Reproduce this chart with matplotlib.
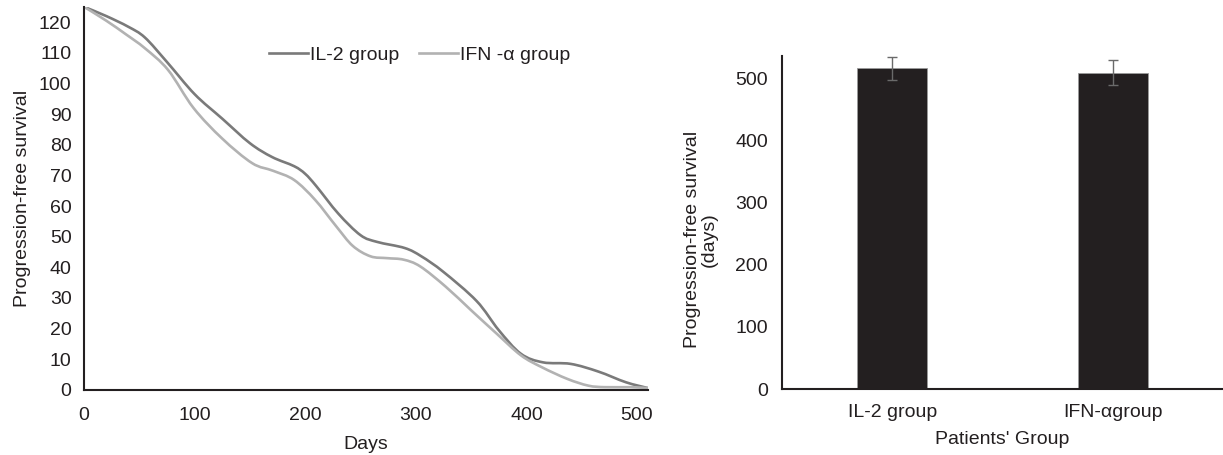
import matplotlib
matplotlib.use("Agg")
import matplotlib.pyplot as plt
from matplotlib.path import Path
from matplotlib.patches import PathPatch
from matplotlib.lines import Line2D

plt.rcParams['font.family'] = ['Liberation Sans', 'DejaVu Sans']

# Left chart: progression-free survival curves
days_il2 = [0, 20, 40, 55, 75, 100, 125, 150, 170, 190, 200, 210, 230, 250, 265, 290, 305, 325, 355, 375, 395, 415, 440, 465, 490, 510]
pfs_il2 = [125, 122, 118.5, 115, 107, 96.5, 88.5, 80.5, 76, 73, 70.5, 66.5, 57.5, 50.5, 48.3, 46.3, 43.6, 38.5, 29, 19.5, 11.8, 9, 8.5, 6, 2.5, 0.6]
days_ifn = [0, 20, 38, 55, 76, 99, 125, 152, 171, 190, 209, 228, 243, 259, 274, 289, 304, 327, 350, 373, 395, 414, 437, 456, 471, 494, 510]
pfs_ifn = [125, 120.5, 116, 111.5, 104.4, 92, 82, 74, 71.5, 68.5, 62, 53.4, 47, 43.6, 43, 42.5, 40.3, 33.7, 26, 18.4, 11.3, 7.4, 3.6, 1.4, 0.9, 0.9, 0.6]
series_labels = ['IL-2 group', 'IFN -α group']

# Right chart: mean progression-free survival per group
groups = ['IL-2 group', 'IFN-αgroup']
means = [516, 509]
errors = [18, 20]

FS = 14
spine_col = '#231f20'
text_col = '#231f20'


def smooth_path(xs, ys):
    """Catmull-Rom style smoothed path (like a spreadsheet 'smoothed line')."""
    pts = list(zip(xs, ys))
    verts = [pts[0]]
    codes = [Path.MOVETO]
    n = len(pts)
    for i in range(n - 1):
        p0 = pts[i - 1] if i > 0 else pts[i]
        p1 = pts[i]
        p2 = pts[i + 1]
        p3 = pts[i + 2] if i + 2 < n else pts[i + 1]
        c1 = (p1[0] + (p2[0] - p0[0]) / 6.0, p1[1] + (p2[1] - p0[1]) / 6.0)
        c2 = (p2[0] - (p3[0] - p1[0]) / 6.0, p2[1] - (p3[1] - p1[1]) / 6.0)
        verts += [c1, c2, p2]
        codes += [Path.CURVE4] * 3
    return Path(verts, codes)


fig = plt.figure(figsize=(12.23, 4.55), dpi=100)

ax1 = fig.add_axes([0.0687, 0.143, 0.4612, 0.842])
col_il2, col_ifn = '#7a7a7a', '#b2b2b2'
ax1.add_patch(PathPatch(smooth_path(days_il2, pfs_il2), fill=False, edgecolor=col_il2, lw=1.9, capstyle='round'))
ax1.add_patch(PathPatch(smooth_path(days_ifn, pfs_ifn), fill=False, edgecolor=col_ifn, lw=1.9, capstyle='round'))
ax1.set_xlim(0, 510)
ax1.set_ylim(0, 125)
ax1.set_xticks(range(0, 501, 100))
ax1.set_yticks(range(0, 121, 10))
for s in ['top', 'right']:
    ax1.spines[s].set_visible(False)
for s in ['left', 'bottom']:
    ax1.spines[s].set_color(spine_col)
    ax1.spines[s].set_linewidth(1.5)
ax1.tick_params(axis='y', length=0, labelsize=FS, colors=text_col, pad=9)
ax1.tick_params(axis='x', length=0, labelsize=FS, colors=text_col, pad=12)
ax1.set_xlabel('Days', fontsize=FS, color=text_col, labelpad=9)
ax1.set_ylabel('Progression-free survival', fontsize=FS, color=text_col, labelpad=6)
handles = [Line2D([], [], color=col_il2, lw=1.9), Line2D([], [], color=col_ifn, lw=1.9)]
leg = ax1.legend(handles, series_labels, loc='center', bbox_to_anchor=(0.595, 0.875), ncol=2, frameon=False,
                 fontsize=FS, handlelength=2.0, handletextpad=0.1, columnspacing=1.0)
for t in leg.get_texts():
    t.set_color(text_col)

ax2 = fig.add_axes([0.6394, 0.145, 0.3606, 0.732])
x = range(len(groups))
ax2.bar(x, means, width=0.316, color='#231f20', edgecolor='#9a9a9a', linewidth=0.6)
ax2.errorbar(x, means, yerr=errors, fmt='none', ecolor='#6a6a6a', elinewidth=1.0, capsize=3.5, capthick=1.0)
ax2.set_xlim(-0.5, 1.5)
ax2.set_ylim(0, 536)
ax2.set_yticks(range(0, 501, 100))
ax2.set_xticks(list(x))
ax2.set_xticklabels(groups)
for s in ['top', 'right']:
    ax2.spines[s].set_visible(False)
for s in ['left', 'bottom']:
    ax2.spines[s].set_color(spine_col)
    ax2.spines[s].set_linewidth(1.5)
ax2.tick_params(axis='y', length=0, labelsize=FS, colors=text_col, pad=10)
ax2.tick_params(axis='x', length=0, labelsize=FS, colors=text_col, pad=11)
ax2.set_xlabel("Patients' Group", fontsize=FS, color=text_col, labelpad=7)
ax2.set_ylabel('Progression-free survival\n(days)', fontsize=FS, color=text_col, linespacing=1.0)
ax2.yaxis.set_label_coords(-0.145, 0.45)

fig.savefig('out.png', dpi=100)
